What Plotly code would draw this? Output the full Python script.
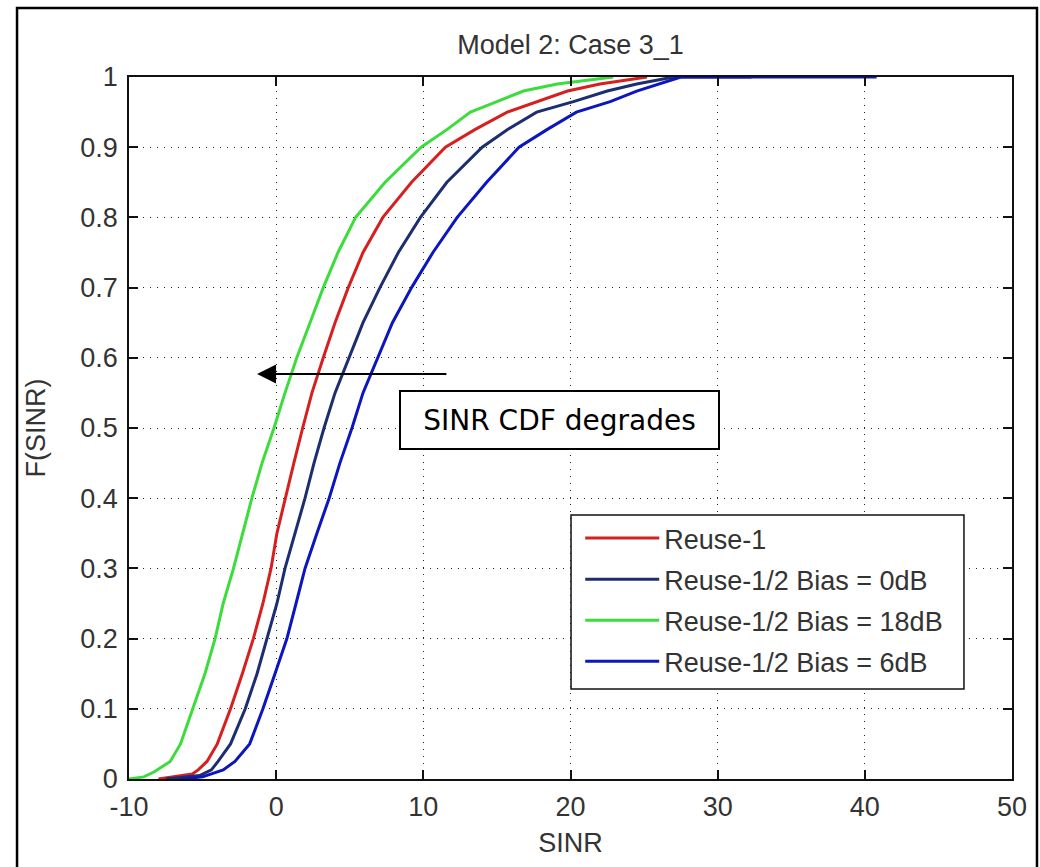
import plotly.graph_objects as go

# Empirical SINR CDFs: SINR in dB at selected cumulative levels
green_x = [-10, -9.0, -8.3, -7.2, -6.5, -5.65, -4.84, -4.15, -3.6, -2.9, -2.3, -1.65, -0.96, -0.15,
           0.6, 1.4, 2.3, 3.2, 4.2, 5.4, 7.4, 9.85, 11.6, 13.2, 15.0, 16.8, 19.1, 22.9]
green_y = [0, 0.003, 0.01, 0.025, 0.05, 0.10, 0.15, 0.20, 0.25, 0.30, 0.35, 0.40, 0.45, 0.50,
           0.55, 0.60, 0.65, 0.70, 0.75, 0.80, 0.85, 0.90, 0.925, 0.95, 0.965, 0.98, 0.99, 1.0]

red_x = [-8.0, -5.7, -5.3, -4.7, -4.0, -3.1, -2.3, -1.55, -0.9, -0.35, 0.05, 0.6, 1.2, 1.8,
         2.43, 3.2, 4.0, 4.9, 5.9, 7.25, 9.2, 11.5, 13.5, 15.7, 17.7, 19.8, 22.0, 25.2]
red_y = [0, 0.007, 0.013, 0.025, 0.05, 0.10, 0.15, 0.20, 0.25, 0.30, 0.35, 0.40, 0.45, 0.50,
         0.55, 0.60, 0.65, 0.70, 0.75, 0.80, 0.85, 0.90, 0.925, 0.95, 0.965, 0.98, 0.99, 1.0]

navy_x = [-7.5, -5.2, -4.4, -3.95, -3.1, -2.1, -1.3, -0.6, 0.05, 0.6, 1.28, 1.96, 2.57, 3.25,
          4.0, 4.95, 5.9, 7.05, 8.3, 9.8, 11.6, 14.0, 15.7, 17.7, 20.2, 22.5, 24.5, 27.0, 32.3]
navy_y = [0, 0.005, 0.013, 0.025, 0.05, 0.10, 0.15, 0.20, 0.25, 0.30, 0.35, 0.40, 0.45, 0.50,
          0.55, 0.60, 0.65, 0.70, 0.75, 0.80, 0.85, 0.90, 0.925, 0.95, 0.965, 0.98, 0.99, 1.0, 1.0]

blue_x = [-6.5, -5.0, -3.6, -2.8, -1.8, -0.9, -0.08, 0.73, 1.35, 1.96, 2.77, 3.6, 4.33, 5.15,
          5.9, 6.9, 7.9, 9.2, 10.65, 12.3, 14.3, 16.5, 18.4, 20.4, 22.7, 24.5, 26.0, 27.5, 40.8]
blue_y = [0, 0.003, 0.013, 0.025, 0.05, 0.10, 0.15, 0.20, 0.25, 0.30, 0.35, 0.40, 0.45, 0.50,
          0.55, 0.60, 0.65, 0.70, 0.75, 0.80, 0.85, 0.90, 0.925, 0.95, 0.965, 0.98, 0.99, 1.0, 1.0]

x_ticks = [-10, 0, 10, 20, 30, 40, 50]
x_tick_text = ["-10", "0", "10", "20", "30", "40", "50"]
y_ticks = [0, 0.1, 0.2, 0.3, 0.4, 0.5, 0.6, 0.7, 0.8, 0.9, 1]
y_tick_text = ["0", "0.1", "0.2", "0.3", "0.4", "0.5", "0.6", "0.7", "0.8", "0.9", "1"]

series = [
    ("Reuse-1", red_x, red_y, "rgb(214,32,32)"),
    ("Reuse-1/2 Bias = 0dB", navy_x, navy_y, "rgb(28,46,112)"),
    ("Reuse-1/2 Bias = 18dB", green_x, green_y, "rgb(60,220,60)"),
    ("Reuse-1/2 Bias = 6dB", blue_x, blue_y, "rgb(12,22,190)"),
]

FONT = "Liberation Sans, Arial, sans-serif"
TXT = "#333333"

fig = go.Figure()
for name, xs, ys, col in series:
    fig.add_trace(go.Scatter(x=xs, y=ys, mode="lines", name=name, legendgroup=name,
                             line=dict(color=col, width=3)))

axis_common = dict(
    showline=True, linecolor="#111111", linewidth=1.5, mirror="ticks",
    ticks="inside", ticklen=9, tickwidth=1.5, tickcolor="#111111",
    showgrid=True, gridcolor="#222222", gridwidth=1, griddash="1px,6px",
    zeroline=False, tickfont=dict(family=FONT, size=27, color=TXT),
)

fig.update_xaxes(range=[-10, 50], tickvals=x_ticks, ticktext=x_tick_text, ticklabelstandoff=3,
                 title=dict(text="SINR", font=dict(family=FONT, size=27, color=TXT), standoff=12),
                 **axis_common)
fig.update_yaxes(range=[0, 1], tickvals=y_ticks, ticktext=y_tick_text, ticklabelstandoff=4,
                 title=dict(text="F(SINR)", font=dict(family=FONT, size=27, color=TXT), standoff=27),
                 **axis_common)

fig.update_layout(
    width=1040, height=867,
    margin=dict(l=129, r=28, t=77, b=88),
    paper_bgcolor="white", plot_bgcolor="white",
    title=dict(text="Model 2: Case 3_1", x=0.5, xref="paper", y=1.0, yref="paper",
               yanchor="bottom", pad=dict(b=23),
               font=dict(family=FONT, size=27, color=TXT)),
    legend=dict(x=0.511, y=0.3775, xanchor="left", yanchor="top",
                bgcolor="rgba(0,0,0,0)", borderwidth=0,
                font=dict(family=FONT, size=27, color=TXT),
                itemwidth=74, tracegroupgap=3),
    showlegend=True,
)

# Legend frame, drawn over the grid and curves
fig.add_shape(type="rect", xref="paper", yref="paper",
              x0=0.5006, x1=0.9456, y0=0.1282, y1=0.3761,
              line=dict(color="#111111", width=1.5), fillcolor="white", layer="above")

# Arrow and boxed caption
fig.add_annotation(x=-1.3, y=0.577, ax=11.67, ay=0.577, xref="x", yref="y",
                   axref="x", ayref="y", text="", showarrow=True,
                   arrowhead=2, arrowsize=1.9, arrowwidth=2, arrowcolor="black")
fig.add_annotation(x=19.25, y=0.511, xref="x", yref="y", text="SINR CDF degrades",
                   showarrow=False, font=dict(family="DejaVu Sans", size=28, color="black"),
                   bgcolor="white", bordercolor="black", borderwidth=2, borderpad=0,
                   width=317, height=56)

# Outer figure frame
fig.add_shape(type="rect", xref="paper", yref="paper",
              x0=-0.1268, x1=1.0283, y0=-0.25, y1=1.0983,
              line=dict(color="black", width=2.5), fillcolor="rgba(0,0,0,0)", layer="below")

fig.write_html("out.html")
